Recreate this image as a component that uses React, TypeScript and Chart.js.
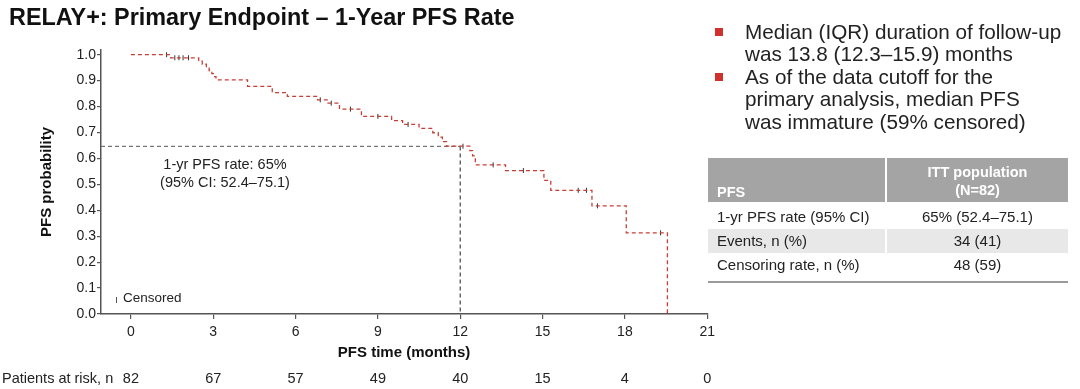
import React, { useEffect, useRef } from "react";
import { Chart, registerables } from "chart.js";

Chart.register(...registerables);

const FONT = "'Liberation Sans', Arial, Helvetica, sans-serif";

// Kaplan-Meier step points: time (months) and PFS probability after the event
const kmTimes = [0, 1.45, 2.47, 2.6, 2.75, 2.85, 2.95, 3.05, 3.1, 4.25, 5.15, 5.7, 6.8, 7.15, 7.6, 8.4, 9.5, 9.9, 10.5, 11.0, 11.2, 11.35, 11.5, 12.35, 12.45, 12.55, 13.65, 15.05, 15.3, 16.8, 18.05, 19.55];
const kmSurv = [1.0, 0.988, 0.975, 0.963, 0.951, 0.939, 0.927, 0.915, 0.903, 0.878, 0.854, 0.839, 0.826, 0.813, 0.79, 0.762, 0.746, 0.731, 0.716, 0.699, 0.682, 0.665, 0.647, 0.63, 0.61, 0.575, 0.553, 0.515, 0.477, 0.417, 0.313, 0.0];

// Censored observations
const censorTimes = [1.3, 1.6, 1.75, 1.9, 2.1, 6.9, 7.3, 8.0, 9.0, 10.1, 12.1, 13.2, 14.3, 16.3, 16.6, 17.0, 19.3];
const censorSurv = [1.0, 0.988, 0.988, 0.988, 0.988, 0.826, 0.813, 0.79, 0.762, 0.731, 0.647, 0.575, 0.553, 0.477, 0.477, 0.417, 0.313];

// Landmark
const landmarkMonth = 12;
const landmarkRate = 0.646;

// Axes
const xMin = -1.09;
const xMax = 21;
const xTicks = [0, 3, 6, 9, 12, 15, 18, 21];
const yTicks = [0, 0.1, 0.2, 0.3, 0.4, 0.5, 0.6, 0.7, 0.8, 0.9, 1.0];
const atRisk = [82, 67, 57, 49, 40, 15, 4, 0];

const bullets = [
  ["Median (IQR) duration of follow-up", "was 13.8 (12.3–15.9) months"],
  ["As of the data cutoff for the", "primary analysis, median PFS", "was immature (59% censored)"],
];

const tableHeader = ["PFS", "ITT population", "(N=82)"];
const tableRows = [
  ["1-yr PFS rate (95% CI)", "65% (52.4–75.1)"],
  ["Events, n (%)", "34 (41)"],
  ["Censoring rate, n (%)", "48 (59)"],
];

const atRiskPlugin = {
  id: "atRisk",
  afterDraw(chart: any) {
    const ctx = chart.ctx;
    const xs = chart.scales.x;
    ctx.save();
    ctx.font = `14.5px ${FONT}`;
    ctx.fillStyle = "#222";
    ctx.textBaseline = "middle";
    ctx.textAlign = "left";
    ctx.fillText("Patients at risk, n", 2, 379);
    ctx.textAlign = "center";
    xTicks.forEach((t, i) => {
      ctx.fillText(String(atRisk[i]), xs.getPixelForValue(t), 379);
    });
    ctx.restore();
  },
};

function KMChart() {
  const ref = useRef<HTMLCanvasElement>(null);
  useEffect(() => {
    if (!ref.current) return;
    const chart = new Chart(ref.current, {
      type: "line",
      data: {
        datasets: [
          {
            label: "KM",
            data: kmTimes.map((t, i) => ({ x: t, y: kmSurv[i] })),
            stepped: "before",
            borderColor: "#c63f36",
            borderWidth: 1.3,
            borderDash: [4, 3],
            pointRadius: 0,
            fill: false,
          },
          {
            label: "Censored",
            data: censorTimes.map((t, i) => ({ x: t, y: censorSurv[i] })),
            showLine: false,
            pointStyle: "line",
            rotation: 90,
            pointRadius: 2.5,
            borderColor: "#333",
            borderWidth: 1,
          },
          {
            label: "h",
            data: [
              { x: xMin, y: landmarkRate },
              { x: landmarkMonth, y: landmarkRate },
            ],
            borderColor: "#777",
            borderWidth: 1.2,
            borderDash: [4, 3],
            pointRadius: 0,
          },
          {
            label: "v",
            data: [
              { x: landmarkMonth, y: landmarkRate },
              { x: landmarkMonth, y: 0 },
            ],
            borderColor: "#444",
            borderWidth: 1.2,
            borderDash: [4, 3],
            pointRadius: 0,
          },
        ],
      },
      options: {
        responsive: false,
        animation: false,
        events: [],
        layout: { padding: { top: 50, right: 11, left: 0, bottom: 0 } },
        plugins: { legend: { display: false }, tooltip: { enabled: false } },
        scales: {
          x: {
            type: "linear",
            min: xMin,
            max: xMax,
            afterBuildTicks: (s: any) => {
              s.ticks = xTicks.map((v) => ({ value: v }));
            },
            afterFit: (s: any) => {
              s.height = 75;
            },
            ticks: {
              autoSkip: false,
              maxRotation: 0,
              padding: 5,
              color: "#222",
              font: { family: FONT, size: 14 },
              callback: (v: any) => String(v),
            },
            grid: { drawOnChartArea: false, drawTicks: true, tickLength: 5, color: "#555", lineWidth: 1.2 },
            border: { display: true, color: "#555", width: 1.5 },
            title: {
              display: true,
              text: "PFS time (months)",
              color: "#111",
              font: { family: FONT, size: 15, weight: "bold" },
              padding: { top: 0, bottom: 27 },
            },
          },
          y: {
            type: "linear",
            min: 0,
            max: 1.018,
            afterBuildTicks: (s: any) => {
              s.ticks = yTicks.map((v) => ({ value: v }));
            },
            afterFit: (s: any) => {
              s.width = 101;
            },
            ticks: {
              autoSkip: false,
              padding: 1,
              color: "#222",
              font: { family: FONT, size: 14 },
              callback: (v: any) => Number(v).toFixed(1),
            },
            grid: { drawOnChartArea: false, drawTicks: true, tickLength: 4, color: "#555", lineWidth: 1.2 },
            border: { display: true, color: "#555", width: 1.5 },
            title: {
              display: true,
              text: "PFS probability",
              color: "#111",
              font: { family: FONT, size: 15, weight: "bold" },
              padding: { top: 38, bottom: 0 },
            },
          },
        },
      },
      plugins: [atRiskPlugin],
    });
    return () => chart.destroy();
  }, []);
  return (
    <canvas
      ref={ref}
      width={720}
      height={389}
      style={{ position: "absolute", left: 0, top: 0, width: 720, height: 389 }}
    />
  );
}

export default function App() {
  const bulletTops = [20.5, 65.5];
  return (
    <div
      style={{
        position: "absolute",
        left: 0,
        top: 0,
        width: 1080,
        height: 389,
        background: "#fff",
        fontFamily: FONT,
        color: "#222",
        overflow: "hidden",
      }}
    >
      <KMChart />
      <div
        style={{
          position: "absolute",
          left: 9,
          top: 4,
          fontSize: 23.4,
          lineHeight: "26px",
          fontWeight: "bold",
          color: "#111",
          whiteSpace: "nowrap",
        }}
      >
        RELAY+: Primary Endpoint – 1-Year PFS Rate
      </div>

      <div style={{ position: "absolute", left: 125, top: 156, width: 200, textAlign: "center", fontSize: 14.5, lineHeight: "17.5px", color: "#222" }}>
        1-yr PFS rate: 65%
        <br />
        (95% CI: 52.4–75.1)
      </div>

      <div style={{ position: "absolute", left: 115.5, top: 297, width: 1, height: 6, background: "#555" }} />
      <div style={{ position: "absolute", left: 123, top: 289, fontSize: 13.5, lineHeight: "17px", color: "#222" }}>Censored</div>

      {bullets.map((lines, bi) => (
        <React.Fragment key={bi}>
          <div style={{ position: "absolute", left: 715, top: bulletTops[bi] + 7, width: 8, height: 8, background: "#d0312d" }} />
          <div style={{ position: "absolute", left: 745, top: bulletTops[bi], fontSize: 20.7, lineHeight: "22.5px", whiteSpace: "nowrap", color: "#222" }}>
            {lines.map((l, li) => (
              <div key={li}>{l}</div>
            ))}
          </div>
        </React.Fragment>
      ))}

      <div style={{ position: "absolute", left: 708, top: 158, width: 360 }}>
        <div style={{ display: "flex", height: 44, color: "#fff", fontWeight: "bold", fontSize: 14.5 }}>
          <div style={{ width: 177, background: "#a4a4a4", display: "flex", alignItems: "flex-end", paddingLeft: 9, paddingBottom: 2, boxSizing: "border-box" }}>
            {tableHeader[0]}
          </div>
          <div style={{ width: 2, background: "#fff" }} />
          <div style={{ flex: 1, background: "#a4a4a4", textAlign: "center", lineHeight: "18.4px", paddingTop: 5, boxSizing: "border-box" }}>
            {tableHeader[1]}
            <br />
            {tableHeader[2]}
          </div>
        </div>
        {tableRows.map((r, i) => (
          <div
            key={i}
            style={{
              display: "flex",
              height: 24,
              marginTop: i === 0 ? 3 : 0,
              background: i === 1 ? "#e8e8e8" : "#fff",
              fontSize: 15,
              lineHeight: "24px",
              color: "#222",
            }}
          >
            <div style={{ width: 177, paddingLeft: 9, boxSizing: "border-box", whiteSpace: "nowrap" }}>{r[0]}</div>
            <div style={{ width: 2, background: "#fff" }} />
            <div style={{ flex: 1, textAlign: "center", whiteSpace: "nowrap" }}>{r[1]}</div>
          </div>
        ))}
        <div style={{ height: 4 }} />
        <div style={{ height: 2, background: "#9a9a9a" }} />
      </div>
    </div>
  );
}
